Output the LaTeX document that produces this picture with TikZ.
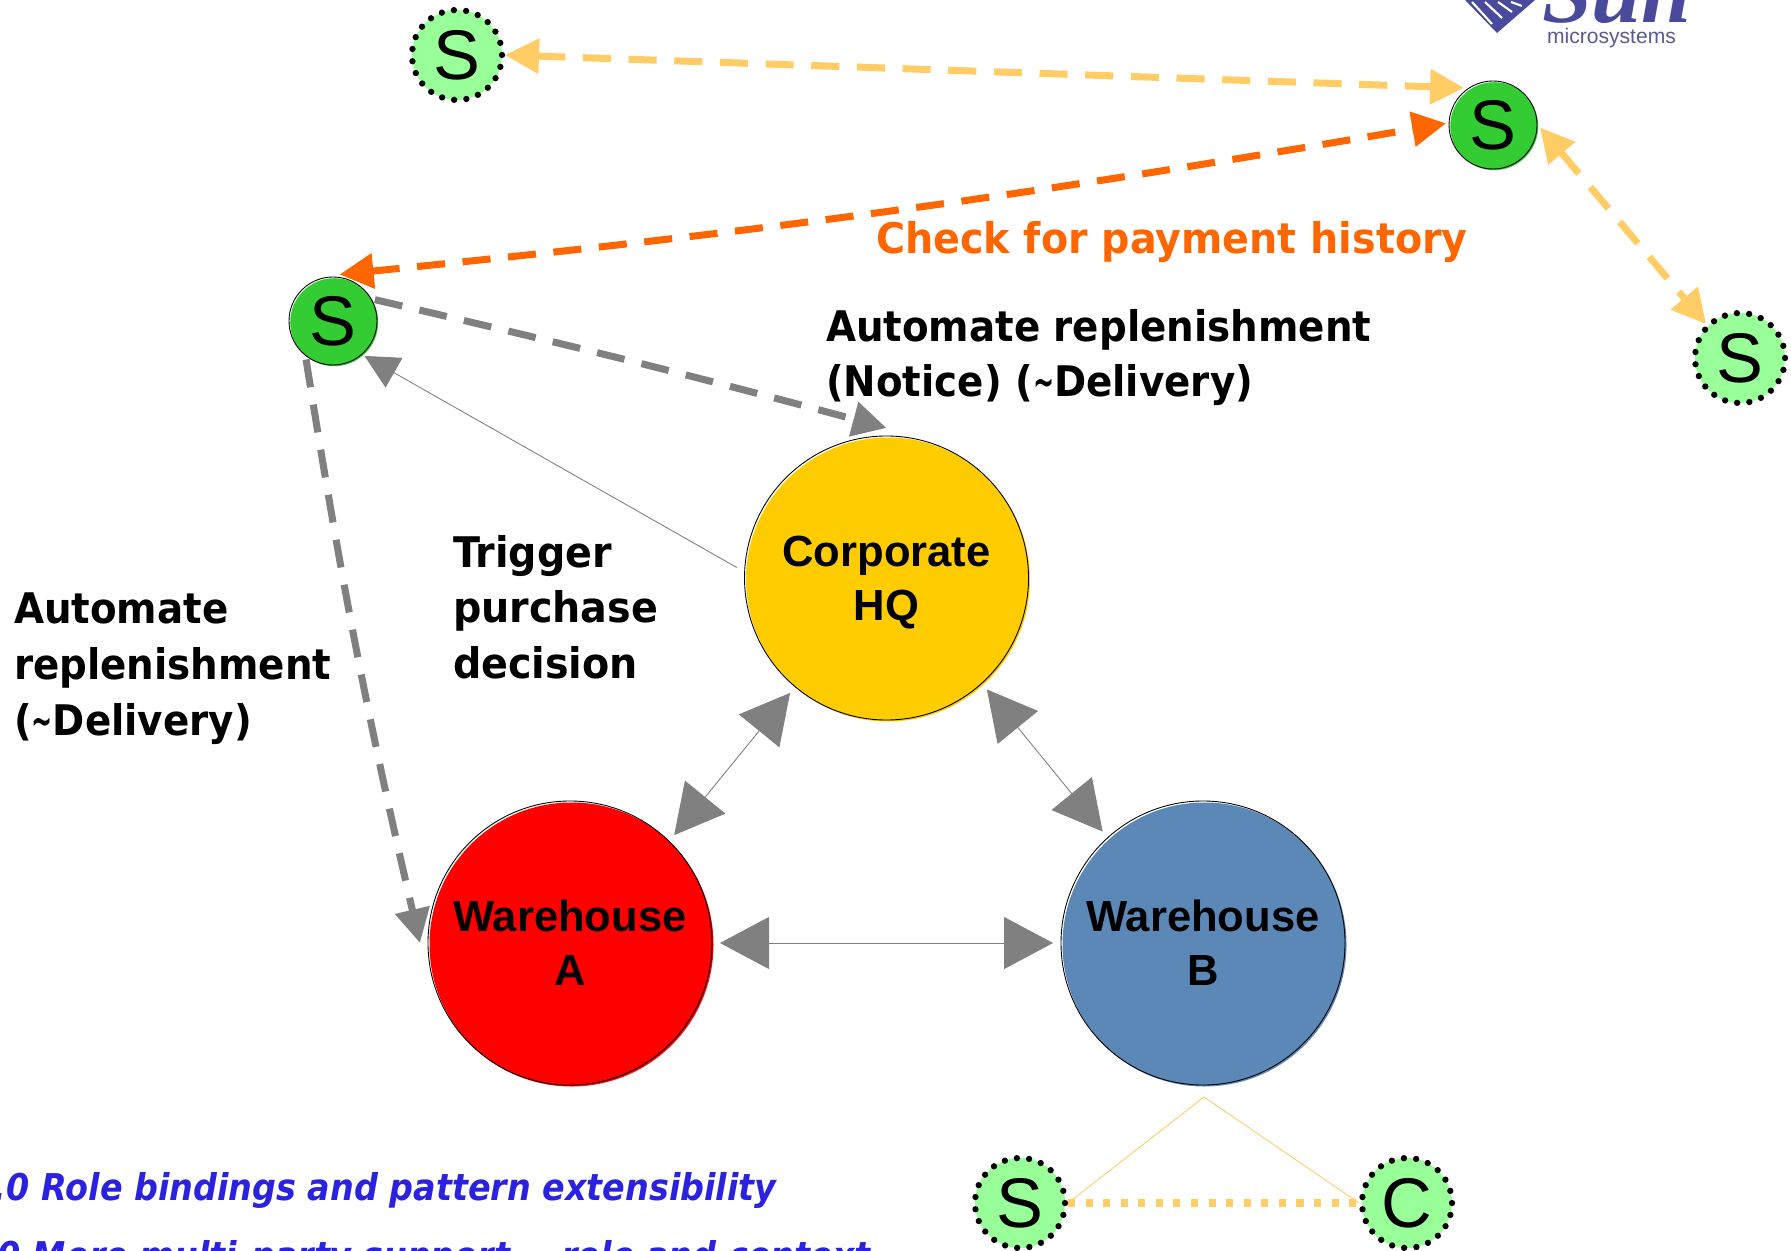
\documentclass[tikz,border=0pt]{standalone}
\usepackage{fontspec}
\usetikzlibrary{arrows.meta}
\setmainfont{Liberation Sans}
\newfontfamily\labelfont{DejaVu Sans}[UprightFont=* Bold,FakeStretch=0.92]
\newfontfamily\widefont{DejaVu Sans}[UprightFont=* Bold,FakeStretch=0.94]
\newfontfamily\rolefont{DejaVu Sans}[UprightFont=* Bold Oblique,FakeStretch=0.905]
\newfontfamily\logofont{Liberation Serif}[UprightFont=* Bold Italic]
\newcommand{\smalltilde}{\scalebox{0.65}[1]{\textasciitilde}}
\definecolor{hqyellow}{HTML}{FFCC00}
\definecolor{whblue}{HTML}{5B88B7}
\definecolor{sgreen}{HTML}{33CC33}
\definecolor{slight}{HTML}{99FF99}
\definecolor{payorange}{HTML}{FF6600}
\definecolor{palorange}{HTML}{FFCC66}
\definecolor{linegray}{HTML}{808080}
\definecolor{roleblue}{HTML}{2A22DE}
\definecolor{logoblue}{HTML}{4A4A9C}
\begin{document}
\begin{tikzpicture}[x=1cm, y=-1cm, outer sep=0pt]

\tikzset{
  party/.style={circle, draw=black, line width=0.25pt, minimum size=2.84cm, inner sep=0pt, outer sep=0.08cm, align=center, font=\fontsize{12.4}{15.3}\selectfont\bfseries,
    preaction={fill=#1, transform canvas={shift={(0.015,0.015)}}}},
  svcsolid/.style={circle, draw=black, line width=0.25pt, minimum size=0.88cm, inner sep=0pt, outer sep=0.03cm, font=\fontsize{20}{20}\selectfont,
    preaction={fill=sgreen, transform canvas={shift={(0.012,0.012)}}}},
  svcdot/.style={circle, fill=slight, draw=black, line width=1.8pt, line cap=round, dash pattern=on 0pt off 3.5pt, minimum size=0.9cm, inner sep=0pt, outer sep=0.03cm, font=\fontsize{20}{20}\selectfont},
  lbl/.style={anchor=north west, inner sep=0pt, align=left, font=\fontsize{12}{15.9}\selectfont\labelfont},
  widelbl/.style={lbl, font=\fontsize{12}{15.9}\selectfont\widefont},
  thinarrow/.style={linegray, line width=0.25pt, {Triangle[length=4.9mm,width=5.2mm]}-{Triangle[length=4.9mm,width=5.2mm]}},
  dasharrow/.style={line width=2pt, dash pattern=on 8pt off 5pt, -{Triangle[length=3.4mm,width=3.4mm]}},
  dashboth/.style={line width=2pt, dash pattern=on 8pt off 5pt, {Triangle[length=3.4mm,width=3.4mm]}-{Triangle[length=3.4mm,width=3.4mm]}}
}

\useasboundingbox (0,0) rectangle (17.91,12.51);
\clip (0,0) rectangle (17.91,12.51);

% logo
\fill[logoblue] (14.65,0) -- (14.97,0.33) -- (15.35,0) -- cycle;
\foreach \k in {0,1,2,3}
  \draw[white, line width=0.6pt] (14.72+0.13*\k,0.02) -- (14.92+0.1*\k,0.24-0.06*\k);
\node[anchor=base west, inner sep=0pt, text=logoblue, font=\fontsize{25.5}{26}\selectfont\logofont] (sunname) at (15.42,0.23) {Sun};
\node[anchor=base west, inner sep=0pt, text=logoblue!70!gray, font=\fontsize{6}{6}\selectfont] (sunsub) at (15.47,0.44) {microsystems};

\node[party=hqyellow] (hq) at (8.865,5.78) {Corporate\\\smash{HQ}};
\node[party=red] (wha) at (5.70,9.43) {Warehouse\\A};
\node[party=whblue] (whb) at (12.03,9.43) {Warehouse\\B};

\node[svcsolid] (stop) at (3.33,3.21) {S};
\node[svcsolid] (sright) at (14.93,1.25) {S};
\node[svcdot] (dtop) at (4.57,0.55) {S};
\node[svcdot] (dright) at (17.40,3.58) {S};
\node[svcdot] (dleft) at (10.20,12.03) {S};
\node[svcdot] (cright) at (14.07,12.03) {C};

\coordinate (apex) at (12.04,10.97);

\draw[thinarrow] (hq.-130) -- (wha.46);
\draw[thinarrow] (hq.-48) -- (whb.132);
\draw[thinarrow] (wha) -- (whb);
\draw[linegray, line width=0.25pt, -{Triangle[length=3.4mm,width=3.4mm]}] (hq.176) -- (stop.-48);

\draw[dasharrow, linegray] (stop.27) to[bend left=1] (hq.north);
\draw[dasharrow, linegray] (stop.-125) to[bend right=2] (wha.180);
\draw[dashboth, payorange] (stop.82) to[bend right=2] (sright.178);
\draw[dashboth, palorange] (dtop.0) -- (sright.128);
\draw[dashboth, palorange] (sright.-3) -- (dright.135);

\draw[palorange, line width=0.25pt] (dleft.east) -- (apex) -- (cright.west);
\draw[palorange, line width=2.2pt, line cap=butt, dash pattern=on 2pt off 3pt] (dleft.east) -- (cright.west);

\node[widelbl, text=payorange] (paylabel) at (8.76,2.21) {Check for payment history};
\node[lbl] (noticelabel) at (8.26,3.09) {Automate replenishment\\(Notice) (\smalltilde Delivery)};
\node[widelbl] (triggerlabel) at (4.53,5.35) {Trigger\\purchase\\decision};
\node[lbl] (deliverylabel) at (0.14,5.925) {Automate\\replenishment\\(\smalltilde Delivery)};

\node[anchor=base west, inner sep=0pt, text=roleblue, font=\fontsize{10.5}{10.5}\selectfont\rolefont] (roleone) at (-0.06,12.00) {.0 Role bindings and pattern extensibility};
\node[anchor=base west, inner sep=0pt, text=roleblue, font=\fontsize{10.5}{10.5}\selectfont\rolefont] (roletwo) at (-0.02,12.68) {0 More multi-party support -- role and context};

\end{tikzpicture}
\end{document}
